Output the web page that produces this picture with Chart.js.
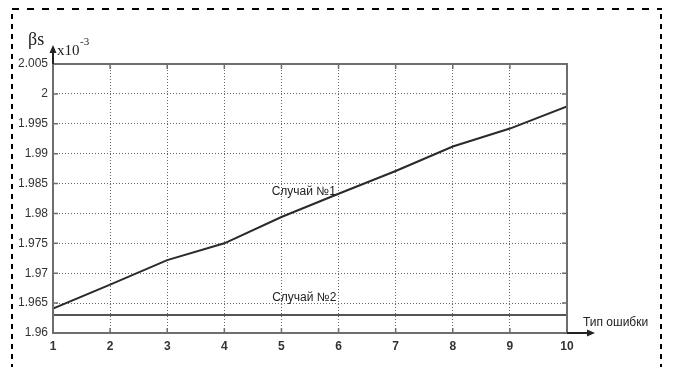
<!DOCTYPE html>
<html><head><meta charset="utf-8">
<script src="https://cdn.jsdelivr.net/npm/chart.js@4/dist/chart.umd.min.js"></script>
<style>html,body{margin:0;padding:0;background:#fff;}#wrap{width:678px;height:367px;}</style>
</head><body><div id="wrap"><canvas id="c" width="678" height="367"></canvas></div>
<script>
const errorTypes = [1,2,3,4,5,6,7,8,9,10];
const case1 = [1.9641,1.9681,1.9722,1.9750,1.9794,1.9833,1.9871,1.9912,1.9942,1.9979];
const case2 = [1.9630,1.9630,1.9630,1.9630,1.9630,1.9630,1.9630,1.9630,1.9630,1.9630];
const yTicks = [1.96,1.965,1.97,1.975,1.98,1.985,1.99,1.995,2,2.005];
const yTickLabels = ['1.96','1.965','1.97','1.975','1.98','1.985','1.99','1.995','2','2.005'];
const seriesNames = ['Случай №1','Случай №2'];
const xTitle = 'Тип ошибки';

const deco = {
  id:'deco',
  beforeDraw(chart){
    const ctx = chart.ctx;
    ctx.save();
    ctx.fillStyle='#fff'; ctx.fillRect(0,0,chart.width,chart.height);
    ctx.strokeStyle='#000'; ctx.lineWidth=2;
    ctx.setLineDash([7,8]);
    ctx.beginPath(); ctx.moveTo(12,9); ctx.lineTo(662,9); ctx.stroke();
    ctx.setLineDash([5,5]);
    ctx.beginPath(); ctx.moveTo(12,14); ctx.lineTo(12,367); ctx.stroke();
    ctx.beginPath(); ctx.moveTo(661,14); ctx.lineTo(661,367); ctx.stroke();
    ctx.restore();
  },
  afterDatasetsDraw(chart){
    const ctx = chart.ctx, a = chart.chartArea, xs = chart.scales.x, ys = chart.scales.y;
    ctx.save();
    ctx.strokeStyle='#6e6e6e'; ctx.lineWidth=2; ctx.setLineDash([]);
    ctx.strokeRect(a.left,a.top,a.right-a.left,a.bottom-a.top);
    ctx.lineWidth=1.5;
    ctx.beginPath();
    errorTypes.forEach(v=>{const p=xs.getPixelForValue(v);
      ctx.moveTo(p,a.bottom); ctx.lineTo(p,a.bottom-5);
      ctx.moveTo(p,a.top); ctx.lineTo(p,a.top+5);});
    yTicks.forEach(v=>{const p=ys.getPixelForValue(v);
      ctx.moveTo(a.left,p); ctx.lineTo(a.left+5,p);
      ctx.moveTo(a.right,p); ctx.lineTo(a.right-5,p);});
    ctx.stroke();
    ctx.strokeStyle='#222'; ctx.fillStyle='#222'; ctx.lineWidth=2;
    ctx.beginPath(); ctx.moveTo(a.left,a.top); ctx.lineTo(a.left,52); ctx.stroke();
    ctx.beginPath(); ctx.moveTo(a.left,45); ctx.lineTo(a.left-3.5,53); ctx.lineTo(a.left+3.5,53); ctx.closePath(); ctx.fill();
    ctx.beginPath(); ctx.moveTo(a.right,a.bottom); ctx.lineTo(588,a.bottom); ctx.stroke();
    ctx.beginPath(); ctx.moveTo(595,a.bottom); ctx.lineTo(587,a.bottom-3.5); ctx.lineTo(587,a.bottom+3.5); ctx.closePath(); ctx.fill();
    ctx.fillStyle='#222';
    ctx.font='12px "Liberation Sans", Arial, sans-serif';
    ctx.textAlign='left'; ctx.textBaseline='middle';
    ctx.fillText(xTitle,583,323);
    ctx.textAlign='center';
    ctx.fillText(seriesNames[0], xs.getPixelForValue(5.39), ys.getPixelForValue(1.98357));
    ctx.fillText(seriesNames[1], xs.getPixelForValue(5.4), ys.getPixelForValue(1.96598));
    ctx.textAlign='left'; ctx.textBaseline='alphabetic';
    ctx.font='18px "Liberation Serif", serif';
    ctx.fillText('βs',28,45);
    ctx.font='15px "Liberation Serif", serif';
    ctx.fillText('x10',57,55);
    ctx.font='11px "Liberation Serif", serif';
    ctx.fillText('-3',80,45);
    ctx.restore();
  }
};

new Chart(document.getElementById('c'),{
  type:'line',
  data:{labels:errorTypes,datasets:[
    {label:seriesNames[0],data:errorTypes.map((x,i)=>({x,y:case1[i]})),borderColor:'#2a2a2a',borderWidth:2,pointRadius:0,tension:0,fill:false},
    {label:seriesNames[1],data:errorTypes.map((x,i)=>({x,y:case2[i]})),borderColor:'#555',borderWidth:2,pointRadius:0,tension:0,fill:false}
  ]},
  options:{
    responsive:false,animation:false,devicePixelRatio:1,
    layout:{padding:{left:0,right:111,top:64,bottom:0}},
    plugins:{legend:{display:false},tooltip:{enabled:false}},
    scales:{
      x:{type:'linear',min:1,max:10,
        afterFit(s){s.height=34;},
        afterBuildTicks(s){s.ticks=errorTypes.map(v=>({value:v}));},
        border:{display:false,dash:[1,2]},
        grid:{color:'#666',lineWidth:1,drawTicks:false,tickLength:0},
        ticks:{padding:6,color:'#333',font:{family:'"Liberation Sans", Arial, sans-serif',size:12,weight:'bold'},callback:v=>String(v),maxRotation:0,autoSkip:false}
      },
      y:{type:'linear',min:1.96,max:2.005,
        afterFit(s){s.width=53;},
        afterBuildTicks(s){s.ticks=yTicks.map(v=>({value:v}));},
        border:{display:false,dash:[1,2]},
        grid:{color:'#666',lineWidth:1,drawTicks:false,tickLength:0},
        ticks:{padding:5,color:'#333',font:{family:'"Liberation Sans", Arial, sans-serif',size:12},callback:(v,i)=>yTickLabels[i],autoSkip:false}
      }
    }
  },
  plugins:[deco]
});
</script>
</body></html>
